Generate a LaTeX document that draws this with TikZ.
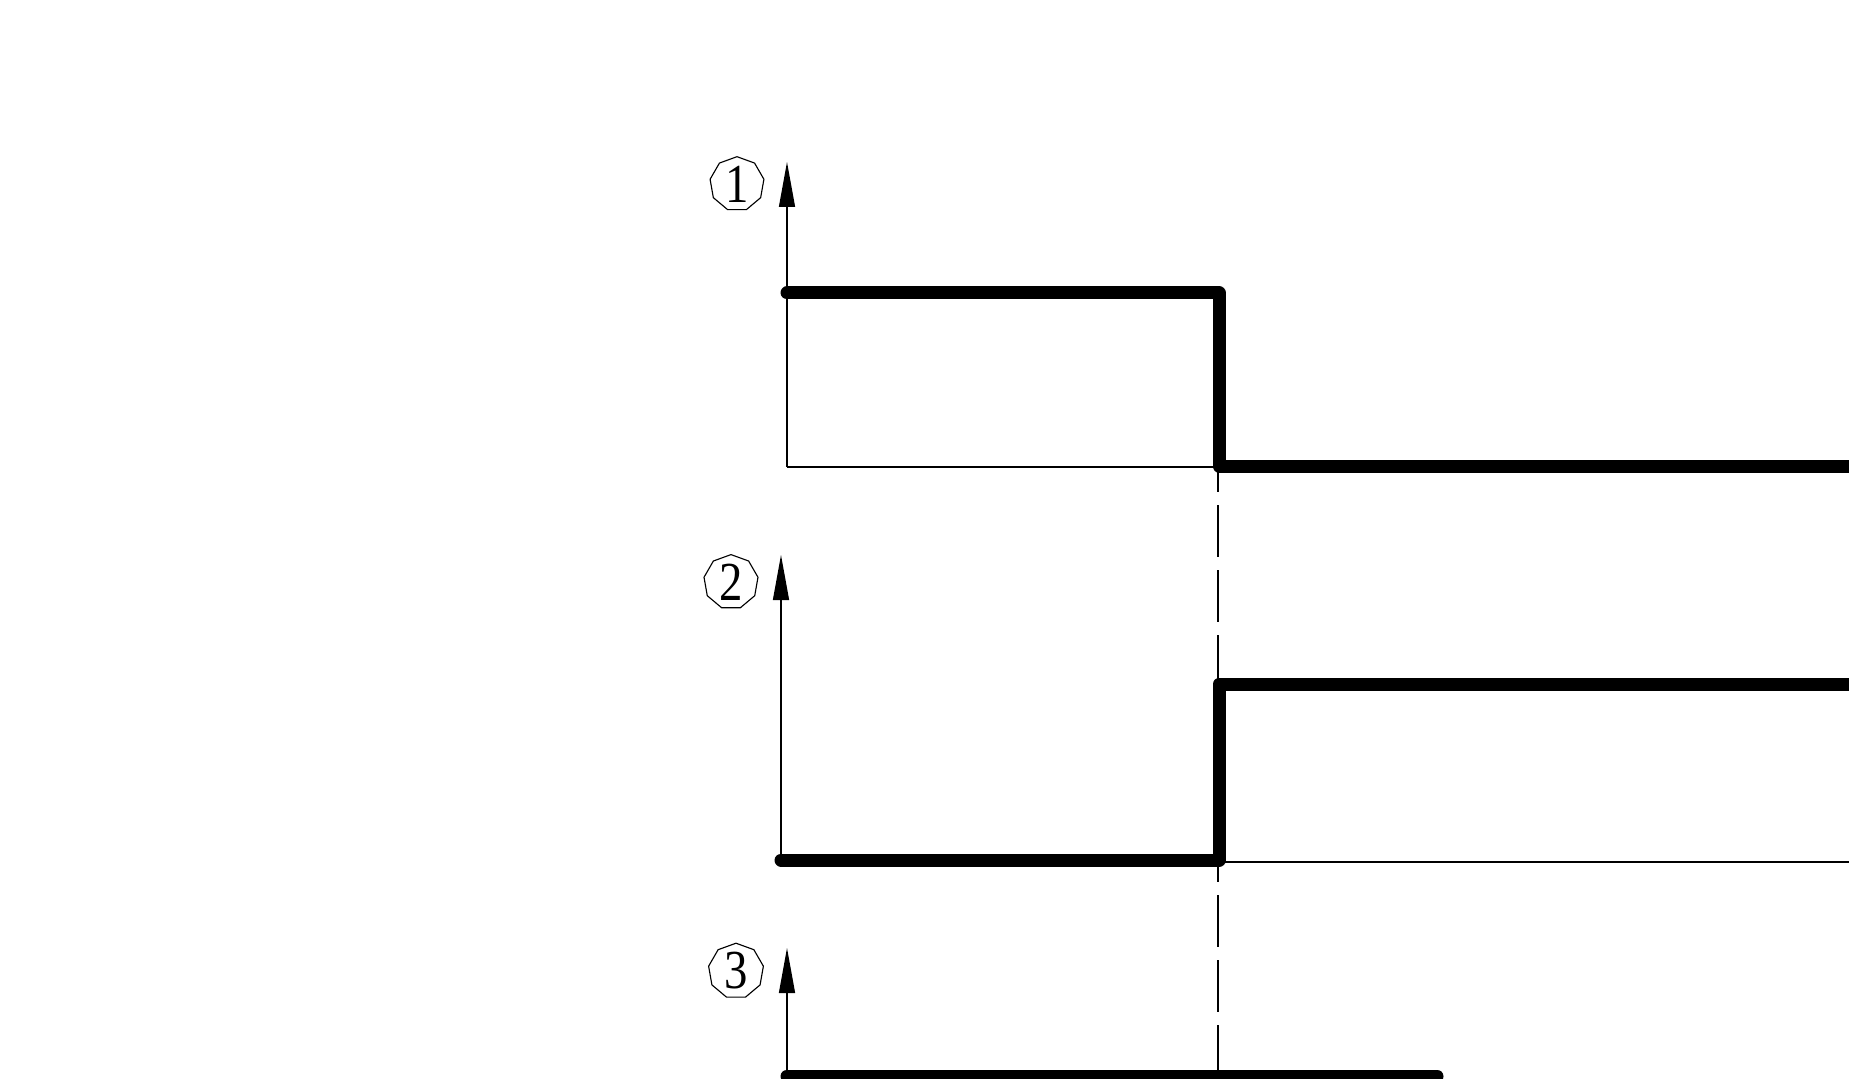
\documentclass[tikz,border=0pt]{standalone}
\usepackage{fontspec}
\setmainfont{Liberation Serif}
\usetikzlibrary{arrows.meta,shapes.geometric}
\tikzset{
  thinline/.style={line width=0.55pt},
  thickline/.style={line width=5.2pt,line cap=round,line join=round},
  axisline/.style={thinline,-{Triangle[length=18pt,width=6.4pt]}},
  numlabel/.style={draw,line width=0.45pt,shape=regular polygon,regular polygon sides=9,
    minimum size=21pt,inner sep=0pt,font=\fontsize{22}{23}\selectfont},
  guide/.style={thinline,dash pattern=on 20.8pt off 5.2pt,dash phase=10.8pt}
}
\begin{document}
\begin{tikzpicture}[x=0.4pt,y=-0.4pt]
\useasboundingbox (0,0) rectangle (1849,1079);
\clip (0,0) rectangle (1849,1079);
% labels
\node[numlabel] (l1) at (737,184) {\scalebox{0.85}[1]{1}};
\node[numlabel] (l2) at (731,582) {\scalebox{0.85}[1]{2}};
\node[numlabel] (l3) at (736,971) {\scalebox{0.85}[1]{3}};
% signal 1
\coordinate (a1top) at (787,162);
\coordinate (a1o) at (787,467);
\coordinate (s1a) at (787,293);
\coordinate (s1b) at (1219,293);
\coordinate (s1c) at (1219,466);
\coordinate (s1d) at (1900,466);
\coordinate (b1e) at (1219,467);
\draw[axisline] (a1o) -- (a1top);
\draw[thinline] (a1o) -- (b1e);
\draw[thickline] (s1a) -- (s1b) -- (s1c) -- (s1d);
% signal 2
\coordinate (a2top) at (781,555);
\coordinate (a2o) at (781,861);
\coordinate (s2a) at (781,860);
\coordinate (s2b) at (1219,860);
\coordinate (s2c) at (1219,684);
\coordinate (s2d) at (1900,684);
\coordinate (b2s) at (1219,862);
\coordinate (b2e) at (1900,862);
\draw[axisline] (a2o) -- (a2top);
\draw[thinline] (b2s) -- (b2e);
\draw[thickline] (s2a) -- (s2b) -- (s2c) -- (s2d);
% signal 3
\coordinate (a3top) at (787,948);
\coordinate (a3o) at (787,1076);
\coordinate (s3a) at (787,1076);
\coordinate (s3b) at (1437,1076);
\draw[axisline] (a3o) -- (a3top);
\draw[thickline] (s3a) -- (s3b);
% guide
\coordinate (g1) at (1218,467);
\coordinate (g2) at (1218,1090);
\draw[guide] (g1) -- (g2);
\end{tikzpicture}
\end{document}
